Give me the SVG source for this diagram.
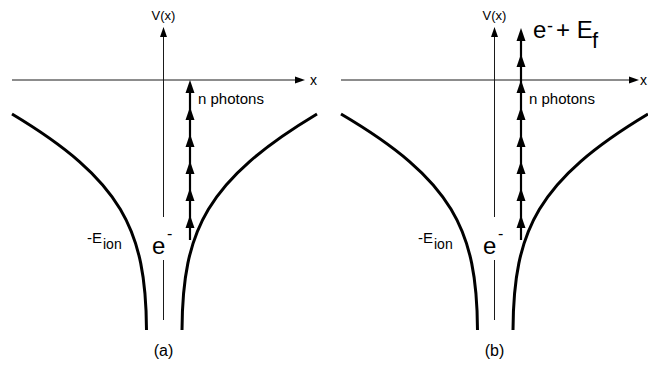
<svg xmlns="http://www.w3.org/2000/svg" xmlns:xlink="http://www.w3.org/1999/xlink" width="648" height="366" viewBox="0 0 648 366">
<style>
.ax{stroke:#1a1a1a;stroke-width:1;fill:none}
.cv{stroke:#000;stroke-width:3;fill:none}
.ph{stroke:#000;stroke-width:2.2;fill:none}
.hd{fill:#000}
text{font-family:"Liberation Sans",Arial,sans-serif;fill:#000}
</style>
<defs>
<path id="pa" d="M0,0 L-4.5,13 L4.5,13 Z"/>
<path id="av" d="M0,0 L-3.5,10 L3.5,10 Z"/>
<path id="ahz" d="M0,0 L-10,-3.5 L-10,3.5 Z"/>
</defs>
<rect width="648" height="366" fill="#fff"/>

<g id="panel-a">
  <g id="axes-a">
    <line class="ax" x1="12" y1="80" x2="297" y2="80"/>
    <use href="#ahz" class="hd" x="305" y="80"/>
    <line class="ax" x1="163.5" y1="35" x2="163.5" y2="217"/>
    <line class="ax" x1="163.5" y1="260" x2="163.5" y2="320"/>
    <use href="#av" class="hd" x="163.5" y="27"/>
    <text x="310" y="85" font-size="14">x</text>
    <text x="163.5" y="20" font-size="13" text-anchor="middle">V(x)</text>
  </g>
  <g id="well-a">
    <path class="cv" d="M12,114 C122,180 146,230 146.5,330"/>
    <path class="cv" d="M317,114 C207,180 182.5,230 182,330"/>
  </g>
  <g id="photons-a">
    <line class="ph" x1="190" y1="240" x2="190" y2="86"/>
    <use href="#pa" class="hd" x="190" y="80"/>
    <use href="#pa" class="hd" x="190" y="107"/>
    <use href="#pa" class="hd" x="190" y="134"/>
    <use href="#pa" class="hd" x="190" y="161"/>
    <use href="#pa" class="hd" x="190" y="188"/>
    <use href="#pa" class="hd" x="190" y="215"/>
    <text x="198" y="104" font-size="15">n photons</text>
  </g>
  <g id="labels-a">
    <text x="87" y="243" font-size="15">-E</text>
    <text x="103" y="249" font-size="14">ion</text>
    <text x="152" y="254" font-size="24">e</text>
    <text x="167" y="239" font-size="16">-</text>
    <text x="163.5" y="356" font-size="16" text-anchor="middle">(a)</text>
  </g>
</g>

<g id="panel-b">
  <g id="axes-b">
    <line class="ax" x1="341" y1="80" x2="631" y2="80"/>
    <use href="#ahz" class="hd" x="639" y="80"/>
    <line class="ax" x1="494.5" y1="35" x2="494.5" y2="217"/>
    <line class="ax" x1="494.5" y1="260" x2="494.5" y2="320"/>
    <use href="#av" class="hd" x="494.5" y="27"/>
    <text x="640" y="85" font-size="14">x</text>
    <text x="494.5" y="20" font-size="13" text-anchor="middle">V(x)</text>
  </g>
  <g id="well-b" transform="translate(331,0)">
    <path class="cv" d="M10,114 C122,180 146,230 146.5,330"/>
    <path class="cv" d="M317,114 C207,180 182.5,230 182,330"/>
  </g>
  <g id="photons-b">
    <line class="ph" x1="521" y1="240" x2="521" y2="34"/>
    <use href="#pa" class="hd" x="521" y="28"/>
    <use href="#pa" class="hd" x="521" y="54"/>
    <use href="#pa" class="hd" x="521" y="80"/>
    <use href="#pa" class="hd" x="521" y="107"/>
    <use href="#pa" class="hd" x="521" y="134"/>
    <use href="#pa" class="hd" x="521" y="161"/>
    <use href="#pa" class="hd" x="521" y="188"/>
    <use href="#pa" class="hd" x="521" y="215"/>
    <text x="529" y="104" font-size="15">n photons</text>
  </g>
  <g id="labels-b">
    <text x="533" y="38" font-size="24">e</text>
    <text x="547" y="32" font-size="18">-</text>
    <text x="556" y="38" font-size="24">+ E</text>
    <text x="592" y="48" font-size="22">f</text>
    <text x="418" y="243" font-size="15">-E</text>
    <text x="434" y="249" font-size="14">ion</text>
    <text x="483" y="254" font-size="24">e</text>
    <text x="498" y="239" font-size="16">-</text>
    <text x="494.5" y="356" font-size="16" text-anchor="middle">(b)</text>
  </g>
</g>
</svg>
